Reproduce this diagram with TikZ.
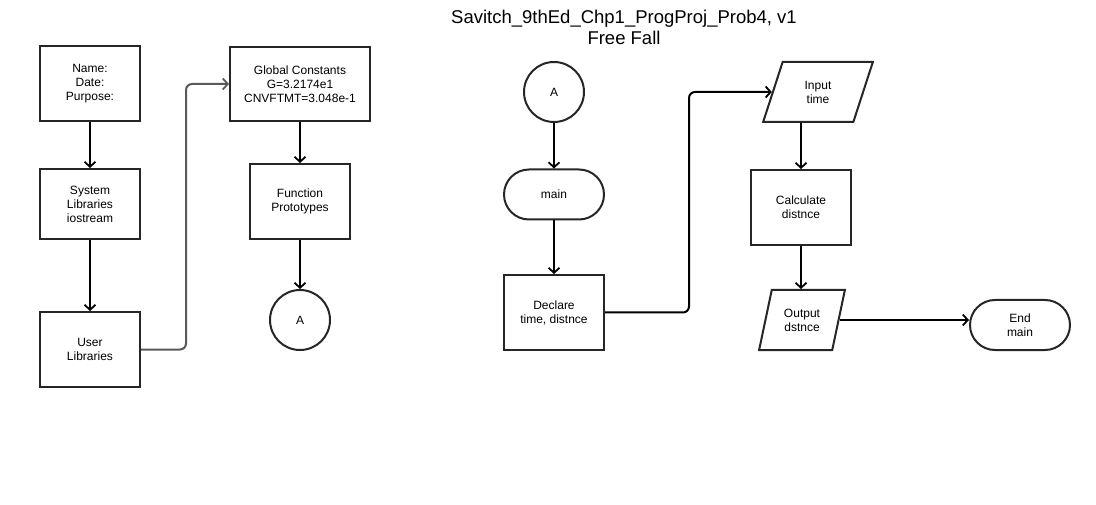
\documentclass[tikz,border=0pt]{standalone}
\usepackage{fontspec}
\setmainfont{Liberation Sans}
\usetikzlibrary{arrows.meta,positioning,shapes.geometric}

\begin{document}
\begin{tikzpicture}[
  x=1pt, y=-1pt,
  every node/.style={font=\fontsize{12}{14}\selectfont, align=center, line width=2pt, draw=black!85},
  procbox/.style={rectangle, draw, minimum width=100, minimum height=75, inner sep=2pt},
  termbox/.style={rectangle, rounded corners=25pt, draw, minimum width=100, minimum height=50},
  conn/.style={circle, draw, minimum size=60, inner sep=0pt},
  iobox/.style={trapezium, draw, trapezium left angle=72, trapezium right angle=108,
    trapezium stretches=true, minimum width=110, minimum height=60, inner sep=1pt},
  flow/.style={draw, line width=2pt, -{Straight Barb[length=5pt,width=11pt,line width=1.8pt]}}
]
\useasboundingbox (0,0) rectangle (1096,505);

\node[draw=none, font=\fontsize{18.5}{21}\selectfont] (title) at (624,27)
  {Savitch\_9thEd\_Chp1\_ProgProj\_Prob4, v1\\Free Fall};

\node[procbox] (hdr) at (90,83.5) {Name:\\Date:\\Purpose:};
\node[procbox, minimum height=70] (syslib) at (90,204) {System\\Libraries\\iostream};
\node[procbox] (usrlib) at (90,349.5) {User\\Libraries};
\node[procbox, minimum width=140, minimum height=74] (glob) at (300,84)
  {Global Constants\\G=3.2174e1\\CNVFTMT=3.048e-1};
\node[procbox] (proto) at (300,201.5) {Function\\Prototypes};
\node[conn] (conA) at (300,320) {A};

\node[conn] (conB) at (554,92) {A};
\node[termbox] (mainbeg) at (554,194.5) {main};
\node[procbox] (decl) at (554,312.5) {Declare\\time, distnce};
\node[iobox] (inp) at (818,92) {Input\\time};
\node[procbox] (calc) at (801,207.5) {Calculate\\distnce};
\node[iobox, minimum width=86] (outp) at (802,320) {Output\\dstnce};
\node[termbox] (mainend) at (1020,325) {End\\main};

\draw[flow] (hdr) -- (syslib);
\draw[flow] (syslib) -- (usrlib);
\draw[flow, draw=black!65, rounded corners=6pt] (usrlib.east) -- ++(45,0) |- (glob.west);
\draw[flow] (glob) -- (proto);
\draw[flow] (proto) -- (conA);

\draw[flow] (conB) -- (mainbeg);
\draw[flow] (mainbeg) -- (decl);
\draw[flow, rounded corners=6pt] (decl.east) -- ++(84,0) |- (inp.west);
\draw[flow] (inp.south -| calc.north) -- (calc.north);
\draw[flow] (calc.south) -- (outp.north -| calc.south);
\draw[flow] (outp.east) -- (mainend.west |- outp.east);

\end{tikzpicture}
\end{document}
